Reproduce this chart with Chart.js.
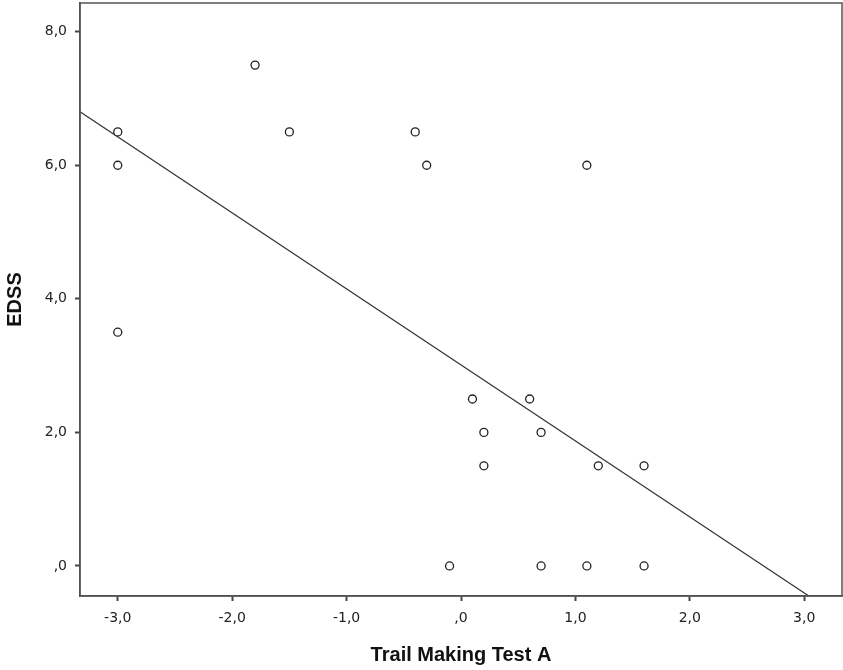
<!DOCTYPE html>
<html>
<head>
<meta charset="utf-8">
<script src="https://cdn.jsdelivr.net/npm/chart.js@4"></script>
<style>
  html, body { margin: 0; padding: 0; background: #fff; }
  #wrap { width: 843px; height: 670px; }
</style>
</head>
<body>
<div id="wrap"><canvas id="myChart" width="843" height="670"></canvas></div>
<script>
// scatter values
const tmtA = [-3.0, -3.0, -3.0, -1.8, -1.5, -0.4, -0.3, 1.1, 0.1, 0.6, 0.2, 0.7, 0.2, 1.2, 1.6, -0.1, 0.7, 1.1, 1.6];
const edss = [6.5, 6.0, 3.5, 7.5, 6.5, 6.5, 6.0, 6.0, 2.5, 2.5, 2.0, 2.0, 1.5, 1.5, 1.5, 0.0, 0.0, 0.0, 0.0];
// fit line end points
const fitX = [-3.33, 3.33];
const fitY = [6.80, -0.78];
const xTicks = [-3, -2, -1, 0, 1, 2, 3];
const yTicks = [0, 2, 4, 6, 8];

function fmt(v) {
  if (Math.abs(v) < 1e-9) return ',0';
  return v.toFixed(1).replace('.', ',');
}

const frame = {
  id: 'frame',
  afterDraw(chart) {
    const a = chart.chartArea, c = chart.ctx;
    c.save();
    c.strokeStyle = '#555';
    c.lineWidth = 1.5;
    c.strokeRect(a.left, a.top, a.right - a.left, a.bottom - a.top);
    c.restore();
  }
};

const tickFont = { family: 'DejaVu Sans', size: 14 };
const titleFont = { family: 'Liberation Sans, Arial', size: 20, weight: 'bold' };

const ctx = document.getElementById('myChart').getContext('2d');
new Chart(ctx, {
  type: 'scatter',
  data: {
    datasets: [
      {
        label: 'EDSS',
        data: tmtA.map((x, i) => ({ x: x, y: edss[i] })),
        pointRadius: 4,
        pointBackgroundColor: '#fff',
        pointBorderColor: '#222',
        pointBorderWidth: 1.3,
        showLine: false
      },
      {
        label: 'fit',
        data: fitX.map((x, i) => ({ x: x, y: fitY[i] })),
        showLine: true,
        borderColor: '#333',
        borderWidth: 1.2,
        pointRadius: 0,
        clip: 0
      }
    ]
  },
  options: {
    responsive: false,
    animation: false,
    layout: { autoPadding: false, padding: { top: 3, right: 1, left: 0, bottom: 0 } },
    plugins: { legend: { display: false }, tooltip: { enabled: false } },
    scales: {
      x: {
        type: 'linear',
        min: -3.33, max: 3.33,
        afterBuildTicks: s => { s.ticks = xTicks.map(v => ({ value: v })); },
        afterFit: s => { s.height = 74; s.paddingLeft = 0; s.paddingRight = 0; },
        grid: { drawOnChartArea: false, drawTicks: true, tickLength: 5, tickWidth: 2, color: '#444' },
        border: { display: true, color: '#444', width: 1.5 },
        ticks: { callback: fmt, color: '#222', padding: 9, font: tickFont },
        title: { display: true, text: 'Trail Making Test A', color: '#111', padding: { top: 0, bottom: 3 }, font: titleFont }
      },
      y: {
        type: 'linear',
        min: -0.45, max: 8.43,
        afterBuildTicks: s => { s.ticks = yTicks.map(v => ({ value: v })); },
        afterFit: s => { s.width = 80; s.paddingTop = 0; s.paddingBottom = 0; },
        grid: { drawOnChartArea: false, drawTicks: true, tickLength: 5, tickWidth: 2, color: '#444' },
        border: { display: true, color: '#444', width: 1.5 },
        ticks: { callback: fmt, color: '#222', padding: 8, font: tickFont },
        title: { display: true, text: 'EDSS', color: '#111', padding: { top: 3, bottom: 0 }, font: titleFont }
      }
    }
  },
  plugins: [frame]
});
</script>
</body>
</html>
